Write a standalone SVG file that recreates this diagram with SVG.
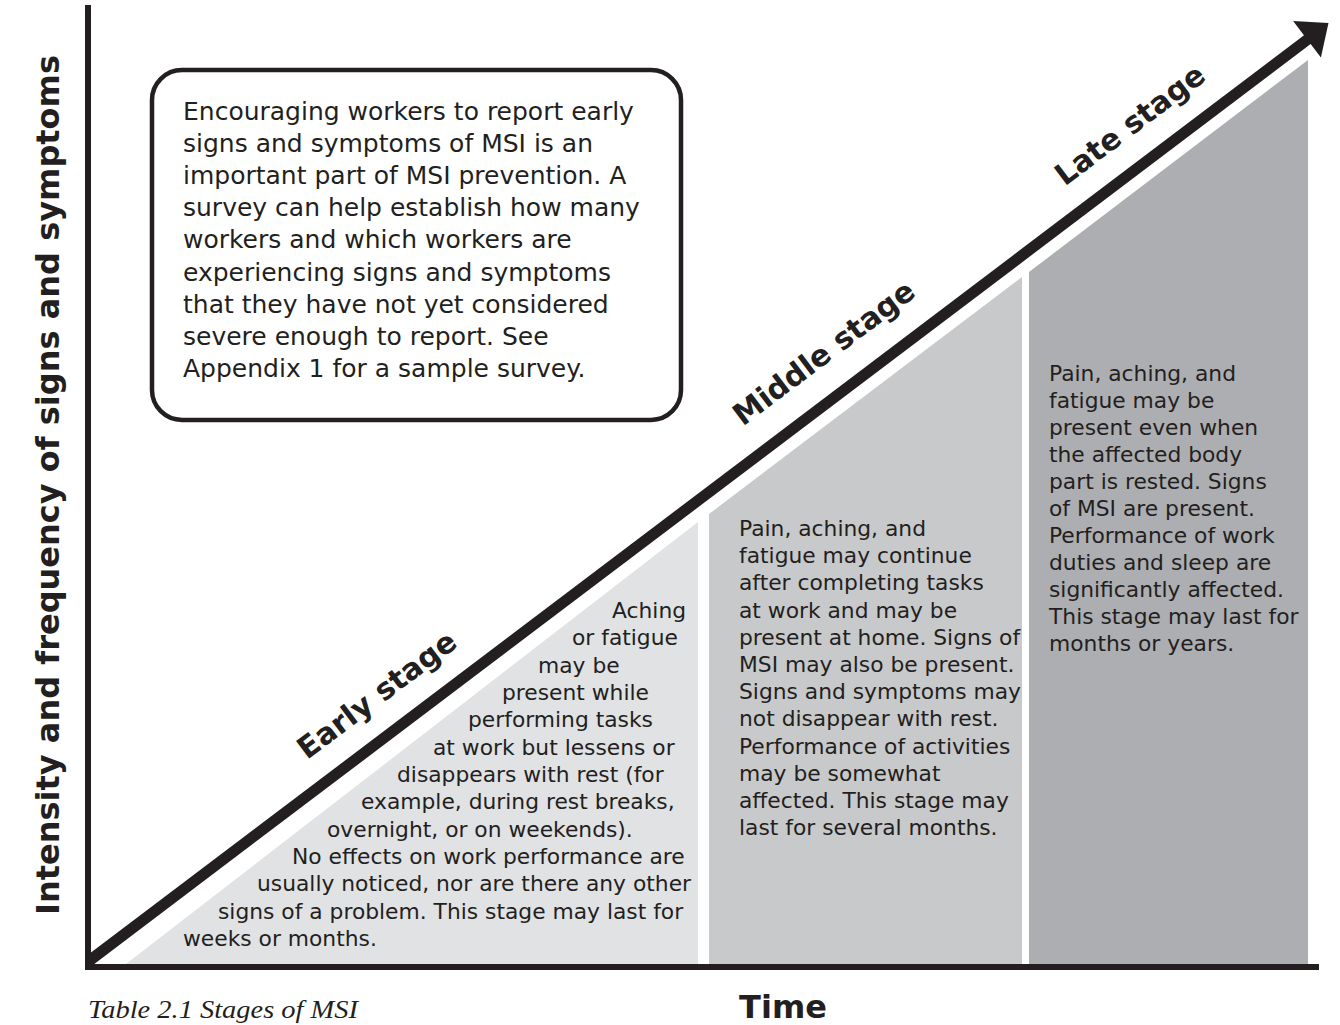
<svg xmlns="http://www.w3.org/2000/svg" width="1340" height="1025" viewBox="0 0 1340 1025">
  <style>
    text { font-family: "DejaVu Sans", "Liberation Sans", sans-serif; fill: #231f20; }
    .box { font-size: 25px; }
    .stg { font-size: 21.8px; }
    .lbl { font-size: 30px; font-weight: bold; }
    .axis { font-size: 32px; font-weight: bold; }
    .cap { font-family: "Liberation Serif", serif; font-style: italic; font-size: 25px; }
  </style>
  <rect width="1340" height="1025" fill="#ffffff"/>

  <g id="region-early">
    <polygon points="126,964 698,522 698,964" fill="#e1e2e4"/>
  </g>
  <g id="region-middle">
    <polygon points="709,514 1022,277 1022,964 709,964" fill="#c8c9cb"/>
  </g>
  <g id="region-late">
    <polygon points="1029,272 1308,60 1308,964 1029,964" fill="#adaeb1"/>
  </g>

  <g id="connectors">
    <line id="y-axis" x1="88" y1="5" x2="88" y2="970" stroke="#231f20" stroke-width="6"/>
    <line id="x-axis" x1="85" y1="967" x2="1319" y2="967" stroke="#231f20" stroke-width="6"/>
    <line id="trend" x1="89" y1="961" x2="1308" y2="39.2" stroke="#231f20" stroke-width="11"/>
    <polygon id="trend-head" points="1293.1,20.9 1328.5,22.9 1320.9,57.5" fill="#231f20"/>
  </g>

  <g id="note-box">
    <rect x="152" y="70" width="529" height="350" rx="30" ry="30" fill="#ffffff" stroke="#231f20" stroke-width="4.5"/>
    <text class="box" x="183">
      <tspan x="183" y="120">Encouraging workers to report early</tspan>
      <tspan x="183" y="152.1">signs and symptoms of MSI is an</tspan>
      <tspan x="183" y="184.2">important part of MSI prevention. A</tspan>
      <tspan x="183" y="216.3">survey can help establish how many</tspan>
      <tspan x="183" y="248.4">workers and which workers are</tspan>
      <tspan x="183" y="280.5">experiencing signs and symptoms</tspan>
      <tspan x="183" y="312.6">that they have not yet considered</tspan>
      <tspan x="183" y="344.7">severe enough to report. See</tspan>
      <tspan x="183" y="376.8">Appendix 1 for a sample survey.</tspan>
    </text>
  </g>

  <g id="early-stage">
    <text class="lbl" transform="translate(377,695) rotate(-37)" text-anchor="middle" y="10">Early stage</text>
    <text class="stg">
      <tspan x="612" y="618">Aching</tspan>
      <tspan x="572" y="645.3">or fatigue</tspan>
      <tspan x="538" y="672.7">may be</tspan>
      <tspan x="502" y="700">present while</tspan>
      <tspan x="468" y="727.3">performing tasks</tspan>
      <tspan x="433" y="754.7">at work but lessens or</tspan>
      <tspan x="397" y="782">disappears with rest (for</tspan>
      <tspan x="361" y="809.3">example, during rest breaks,</tspan>
      <tspan x="327" y="836.7">overnight, or on weekends).</tspan>
      <tspan x="292" y="864">No effects on work performance are</tspan>
      <tspan x="257" y="891.3">usually noticed, nor are there any other</tspan>
      <tspan x="218" y="918.7">signs of a problem. This stage may last for</tspan>
      <tspan x="183" y="946">weeks or months.</tspan>
    </text>
  </g>

  <g id="middle-stage">
    <text class="lbl" transform="translate(824,353) rotate(-37)" text-anchor="middle" y="10">Middle stage</text>
    <text class="stg">
      <tspan x="739" y="536">Pain, aching, and</tspan>
      <tspan x="739" y="563.2">fatigue may continue</tspan>
      <tspan x="739" y="590.4">after completing tasks</tspan>
      <tspan x="739" y="617.6">at work and may be</tspan>
      <tspan x="739" y="644.8">present at home. Signs of</tspan>
      <tspan x="739" y="672">MSI may also be present.</tspan>
      <tspan x="739" y="699.2">Signs and symptoms may</tspan>
      <tspan x="739" y="726.4">not disappear with rest.</tspan>
      <tspan x="739" y="753.6">Performance of activities</tspan>
      <tspan x="739" y="780.8">may be somewhat</tspan>
      <tspan x="739" y="808">affected. This stage may</tspan>
      <tspan x="739" y="835.2">last for several months.</tspan>
    </text>
  </g>

  <g id="late-stage">
    <text class="lbl" transform="translate(1130,125) rotate(-37)" text-anchor="middle" y="10">Late stage</text>
    <text class="stg">
      <tspan x="1049" y="381">Pain, aching, and</tspan>
      <tspan x="1049" y="408">fatigue may be</tspan>
      <tspan x="1049" y="435">present even when</tspan>
      <tspan x="1049" y="462">the affected body</tspan>
      <tspan x="1049" y="489">part is rested. Signs</tspan>
      <tspan x="1049" y="516">of MSI are present.</tspan>
      <tspan x="1049" y="543">Performance of work</tspan>
      <tspan x="1049" y="570">duties and sleep are</tspan>
      <tspan x="1049" y="597">significantly affected.</tspan>
      <tspan x="1049" y="624">This stage may last for</tspan>
      <tspan x="1049" y="651">months or years.</tspan>
    </text>
  </g>

  <g id="axis-labels">
    <text class="axis" transform="translate(59,485) rotate(-90)" text-anchor="middle">Intensity and frequency of signs and symptoms</text>
    <text class="axis" x="783" y="1018" text-anchor="middle">Time</text>
    <text class="cap" x="88" y="1018" textLength="270" lengthAdjust="spacingAndGlyphs">Table 2.1 Stages of MSI</text>
  </g>
</svg>
